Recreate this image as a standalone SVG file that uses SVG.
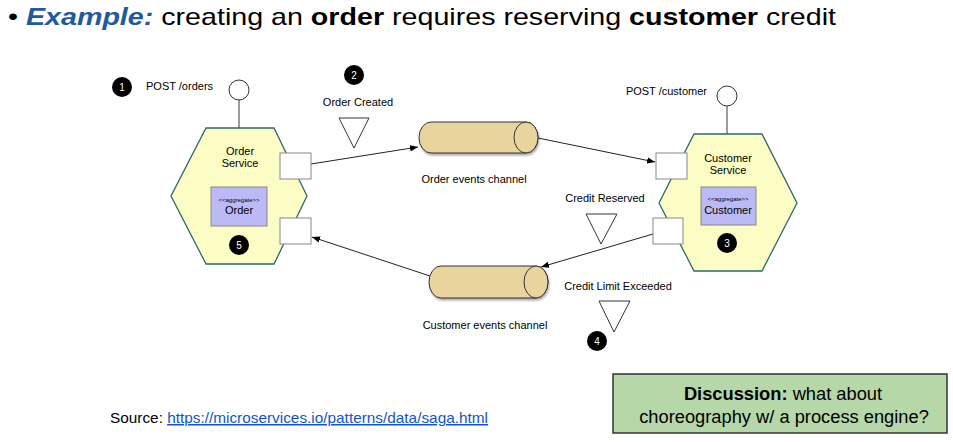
<svg xmlns="http://www.w3.org/2000/svg" width="953" height="442" viewBox="0 0 953 442">
<defs>
<marker id="ah" viewBox="0 0 10 10" refX="10" refY="5" markerWidth="8" markerHeight="8" markerUnits="userSpaceOnUse" orient="auto">
<path d="M0,1 L10,5 L0,9 Z" fill="#000"/>
</marker>
<filter id="sh" x="-10%" y="-10%" width="130%" height="140%">
<feGaussianBlur in="SourceAlpha" stdDeviation="1.2"/>
<feOffset dx="1" dy="2"/>
<feComponentTransfer><feFuncA type="linear" slope="0.35"/></feComponentTransfer>
<feMerge><feMergeNode/><feMergeNode in="SourceGraphic"/></feMerge>
</filter>
</defs>
<style>
text{font-family:"Liberation Sans",Arial,sans-serif;fill:#000}
.lbl{font-size:11px}
.tiny{font-size:6px}
.hex{fill:#fbfdc4;stroke:#2d6a6a;stroke-width:1.3}
.agg{fill:#bcbaf6;stroke:#888;stroke-width:1}
.port{fill:#fff;stroke:#888;stroke-width:1}
.ep{fill:#fff;stroke:#333;stroke-width:1}
.stem{stroke:#666;stroke-width:1.3}
.tri{fill:#fff;stroke:#333;stroke-width:1}
.badge{fill:#000}
.bt{fill:#fff;font-size:10px;text-anchor:middle}
.cyl{fill:#e9d49e;stroke:#333;stroke-width:1}
.conn{stroke:#222;stroke-width:1;fill:none;marker-end:url(#ah)}
</style>
<rect width="953" height="442" fill="#fff"/>

<g id="title">
<text x="8" y="25" font-size="24" textLength="828" lengthAdjust="spacingAndGlyphs"><tspan>• </tspan><tspan font-weight="bold" font-style="italic" fill="#1f5a9e" style="fill:#1f5a9e">Example:</tspan><tspan> creating an </tspan><tspan font-weight="bold">order</tspan><tspan> requires reserving </tspan><tspan font-weight="bold">customer</tspan><tspan> credit</tspan></text>
</g>

<g id="connectors">
<line class="conn" x1="311" y1="164" x2="418" y2="147"/>
<line class="conn" x1="538" y1="138" x2="655" y2="162"/>
<line class="conn" x1="653" y1="234" x2="541" y2="267"/>
<line class="conn" x1="430" y1="276" x2="312" y2="237"/>
</g>

<g id="order-service">
<line class="stem" x1="239" y1="100" x2="239" y2="128"/>
<circle class="ep" cx="239" cy="90" r="10"/>
<polygon class="hex" points="206,128 274,128 307,196 274,264 206,264 171,196"/>
<text class="lbl" x="240" y="155" text-anchor="middle">Order</text>
<text class="lbl" x="240" y="167" text-anchor="middle">Service</text>
<rect class="agg" x="211" y="187" width="56" height="39"/>
<text class="tiny" x="239" y="202" text-anchor="middle">&lt;&lt;aggregate&gt;&gt;</text>
<text class="lbl" x="239" y="214" text-anchor="middle">Order</text>
<rect class="port" x="280" y="153" width="31" height="26"/>
<rect class="port" x="280" y="218" width="31" height="26"/>
</g>

<g id="badge-1">
<circle class="badge" cx="122" cy="87" r="10"/>
<text class="bt" x="122" y="91">1</text>
<text class="lbl" x="146" y="90">POST /orders</text>
</g>

<g id="badge-5">
<circle class="badge" cx="239" cy="245" r="10"/>
<text class="bt" x="239" y="249">5</text>
</g>

<g id="order-created">
<circle class="badge" cx="354" cy="75" r="10"/>
<text class="bt" x="354" y="79">2</text>
<text class="lbl" x="358" y="106" text-anchor="middle">Order Created</text>
<polygon class="tri" points="339,118 369,118 354,148"/>
</g>

<g id="order-events-channel">
<path class="cyl" filter="url(#sh)" d="M431,122 L526,122 A12,15.5 0 0 1 526,153 L431,153 A12,15.5 0 0 1 431,122 Z"/>
<ellipse class="cyl" cx="526" cy="137.5" rx="12" ry="15.5"/>
<text class="lbl" x="474" y="183" text-anchor="middle">Order events channel</text>
</g>

<g id="customer-service">
<line class="stem" x1="727" y1="106" x2="727" y2="134"/>
<circle class="ep" cx="727" cy="96" r="10"/>
<text class="lbl" x="707" y="95" text-anchor="end">POST /customer</text>
<polygon class="hex" points="694,134 762,134 797,203 762,271 694,271 659,203"/>
<text class="lbl" x="728" y="162" text-anchor="middle">Customer</text>
<text class="lbl" x="728" y="174" text-anchor="middle">Service</text>
<rect class="agg" x="701" y="187" width="55" height="38"/>
<text class="tiny" x="728" y="201" text-anchor="middle">&lt;&lt;aggregate&gt;&gt;</text>
<text class="lbl" x="728" y="214" text-anchor="middle">Customer</text>
<rect class="port" x="656" y="153" width="31" height="26"/>
<rect class="port" x="653" y="218" width="30" height="26"/>
</g>

<g id="badge-3">
<circle class="badge" cx="727" cy="243" r="10"/>
<text class="bt" x="727" y="247">3</text>
</g>

<g id="credit-reserved">
<text class="lbl" x="605" y="202" text-anchor="middle">Credit Reserved</text>
<polygon class="tri" points="586,214 617,214 601,244"/>
</g>

<g id="customer-events-channel">
<path class="cyl" filter="url(#sh)" d="M441,266 L536,266 A12,16 0 0 1 536,298 L441,298 A12,16 0 0 1 441,266 Z"/>
<ellipse class="cyl" cx="536" cy="282" rx="12" ry="16"/>
<text class="lbl" x="485" y="329" text-anchor="middle">Customer events channel</text>
</g>

<g id="credit-limit-exceeded">
<text class="lbl" x="618" y="290" text-anchor="middle">Credit Limit Exceeded</text>
<polygon class="tri" points="599,301 630,301 614,332"/>
<circle class="badge" cx="597" cy="341" r="10"/>
<text class="bt" x="597" y="345">4</text>
</g>

<g id="source">
<text x="110" y="423" font-size="15" textLength="378" lengthAdjust="spacingAndGlyphs">Source: <tspan fill="#1155cc" style="fill:#1155cc" text-decoration="underline">https://microservices.io/patterns/data/saga.html</tspan></text>
</g>

<g id="discussion">
<rect x="613" y="374" width="334" height="59" fill="#b6d7a8" stroke="#333" stroke-width="1.5"/>
<text x="783" y="400" font-size="18.3" text-anchor="middle"><tspan font-weight="bold">Discussion:</tspan> what about</text>
<text x="784" y="423" font-size="18.3" text-anchor="middle">choreography w/ a process engine?</text>
</g>
</svg>
